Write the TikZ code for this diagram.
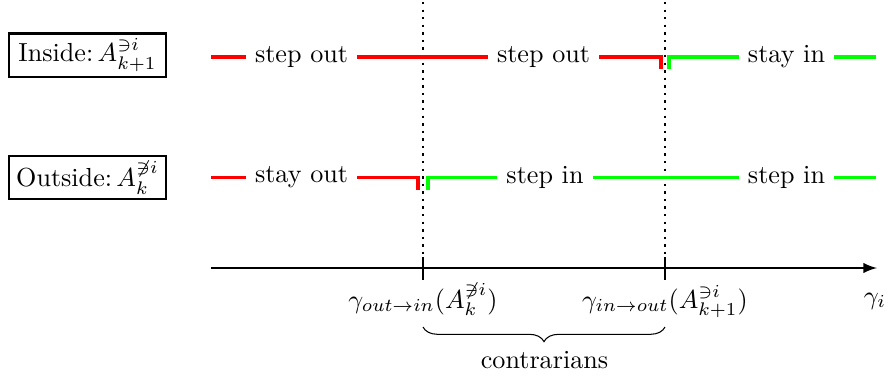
\documentclass[tikz,border=0pt]{standalone}
\usetikzlibrary{decorations.pathreplacing,arrows}
\definecolor{sred}{RGB}{255,0,0}
\definecolor{sgreen}{RGB}{0,255,0}
\begin{document}
\begin{tikzpicture}[x=0.383pt,y=-0.383pt,
  lbl/.style={inner sep=3.33pt},
  box/.style={draw,thick,inner xsep=1.2pt,inner ysep=2pt,minimum width=60.1pt,minimum height=16.5pt},
  outline/.style={sred,line width=1.25pt},
  inline/.style={sgreen,line width=1.25pt},
  guide/.style={dotted,line width=0.9pt},
  axisline/.style={thick,-latex},
  tickline/.style={thick},
  brc/.style={decorate,decoration={brace,mirror,amplitude=5.6pt}}]
\useasboundingbox (0,0) rectangle (889,382);

% boxes
\node[box] (inside) at (87.5,55) {Inside:\,$A^{\ni i}_{k+1}$};
\node[box] (outside) at (87.5,177.5) {Outside:\,$A^{\not\ni i}_{k}$};

% guides
\coordinate (g1top) at (423,2);
\coordinate (g2top) at (665,2);
\coordinate (g1bot) at (423,268);
\coordinate (g2bot) at (665,268);
\draw[guide] (g1top) -- (g1bot);
\draw[guide] (g2top) -- (g2bot);

% row 1
\coordinate (r1s) at (211,57);
\node[lbl] (t1a) at (301.5,57) {step out};
\node[lbl] (t1b) at (543.5,57) {step out};
\node[lbl] (t1c) at (786.5,57) {stay in};
\coordinate (r1d) at (661,57);
\coordinate (r1dd) at (661,69);
\coordinate (g1u) at (669,69);
\coordinate (g1uu) at (669,57);
\coordinate (r1e) at (876,57);
\draw[outline] (r1s) -- (t1a.west);
\draw[outline] (t1a.east) -- (t1b.west);
\draw[outline] (t1b.east) -- (r1d) -- (r1dd);
\draw[inline] (g1u) -- (g1uu) -- (t1c.west);
\draw[inline] (t1c.east) -- (r1e);

% row 2
\coordinate (r2s) at (211,177.5);
\node[lbl] (t2a) at (301.5,177.5) {stay out};
\node[lbl] (t2b) at (545,177.5) {step in};
\node[lbl] (t2c) at (786.5,177.5) {step in};
\coordinate (r2d) at (418,177.5);
\coordinate (r2dd) at (418,190);
\coordinate (g2u) at (428,190);
\coordinate (g2uu) at (428,177.5);
\coordinate (r2e) at (876,177.5);
\draw[outline] (r2s) -- (t2a.west);
\draw[outline] (t2a.east) -- (r2d) -- (r2dd);
\draw[inline] (g2u) -- (g2uu) -- (t2b.west);
\draw[inline] (t2b.east) -- (t2c.west);
\draw[inline] (t2c.east) -- (r2e);

% axis
\coordinate (ax0) at (211,268);
\coordinate (ax1) at (877,268);
\draw[axisline] (ax0) -- (ax1);
\coordinate (k1a) at (423,257);
\coordinate (k1b) at (423,280);
\coordinate (k2a) at (665,257);
\coordinate (k2b) at (665,280);
\draw[tickline] (k1a) -- (k1b);
\draw[tickline] (k2a) -- (k2b);
\node[anchor=base] (l1) at (423,308) {$\gamma_{out\to in}(A^{\not\ni i}_{k})$};
\node[anchor=base] (l2) at (665,308) {$\gamma_{in\to out}(A^{\ni i}_{k+1})$};
\node[anchor=base] (gi) at (875,304) {$\gamma_i$};

% brace
\coordinate (b1) at (423,327);
\coordinate (b2) at (665,327);
\draw[brc] (b1) -- (b2);
\node (contr) at (544.5,360) {contrarians};
\end{tikzpicture}
\end{document}
